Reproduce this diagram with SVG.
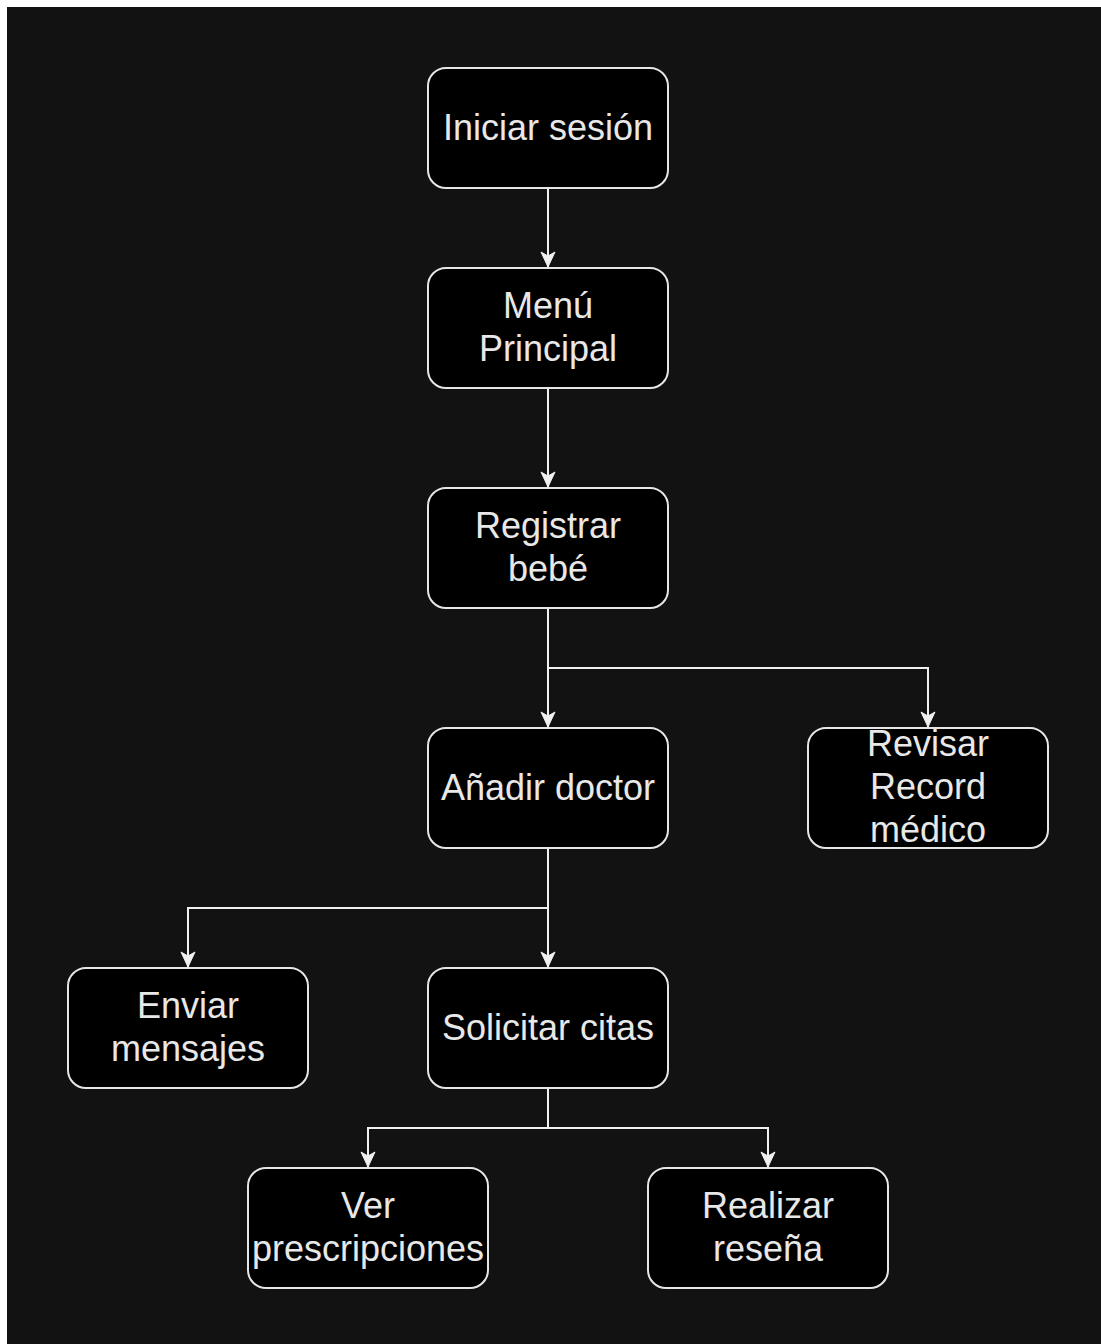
<svg xmlns="http://www.w3.org/2000/svg" width="1101" height="1344" viewBox="0 0 1101 1344">
<defs>
<style>
.box{fill:#000000;stroke:#e6e6e6;stroke-width:2}
.lbl{font-family:"Liberation Sans",Arial,Helvetica,sans-serif;font-size:36px;fill:#e8e8e8;text-anchor:middle}
.edge{fill:none;stroke:#f0f0f0;stroke-width:2}
</style>
<marker id="arr" markerUnits="userSpaceOnUse" markerWidth="17" markerHeight="16" refX="16" refY="8" orient="auto" overflow="visible">
<path d="M1,1 L16,8 L1,15 L5,8 Z" fill="#f0f0f0" stroke="#f0f0f0" stroke-width="1"/>
</marker>
</defs>
<rect x="0" y="0" width="1101" height="1344" fill="#ffffff"/>
<rect x="7" y="7" width="1094" height="1337" fill="#121212"/>
<g id="connectors">
<path class="edge" d="M548,188 V267" marker-end="url(#arr)"/>
<path class="edge" d="M548,388 V487" marker-end="url(#arr)"/>
<path class="edge" d="M548,608 V727" marker-end="url(#arr)"/>
<path class="edge" d="M548,668 H928 V727" marker-end="url(#arr)"/>
<path class="edge" d="M548,848 V967" marker-end="url(#arr)"/>
<path class="edge" d="M548,908 H188 V967" marker-end="url(#arr)"/>
<path class="edge" d="M548,1088 V1128 H368 V1167" marker-end="url(#arr)"/>
<path class="edge" d="M548,1128 H768 V1167" marker-end="url(#arr)"/>
</g>
<g id="iniciar">
<rect class="box" x="428" y="68" width="240" height="120" rx="18"/>
<text class="lbl" x="548" y="140">Iniciar sesión</text>
</g>
<g id="menu">
<rect class="box" x="428" y="268" width="240" height="120" rx="18"/>
<text class="lbl" x="548" y="318">Menú</text>
<text class="lbl" x="548" y="361">Principal</text>
</g>
<g id="registrar">
<rect class="box" x="428" y="488" width="240" height="120" rx="18"/>
<text class="lbl" x="548" y="538">Registrar</text>
<text class="lbl" x="548" y="581">bebé</text>
</g>
<g id="anadir">
<rect class="box" x="428" y="728" width="240" height="120" rx="18"/>
<text class="lbl" x="548" y="800">Añadir doctor</text>
</g>
<g id="revisar">
<rect class="box" x="808" y="728" width="240" height="120" rx="18"/>
<text class="lbl" x="928" y="756">Revisar</text>
<text class="lbl" x="928" y="799">Record</text>
<text class="lbl" x="928" y="842">médico</text>
</g>
<g id="enviar">
<rect class="box" x="68" y="968" width="240" height="120" rx="18"/>
<text class="lbl" x="188" y="1018">Enviar</text>
<text class="lbl" x="188" y="1061">mensajes</text>
</g>
<g id="solicitar">
<rect class="box" x="428" y="968" width="240" height="120" rx="18"/>
<text class="lbl" x="548" y="1040">Solicitar citas</text>
</g>
<g id="ver">
<rect class="box" x="248" y="1168" width="240" height="120" rx="18"/>
<text class="lbl" x="368" y="1218">Ver</text>
<text class="lbl" x="368" y="1261">prescripciones</text>
</g>
<g id="realizar">
<rect class="box" x="648" y="1168" width="240" height="120" rx="18"/>
<text class="lbl" x="768" y="1218">Realizar</text>
<text class="lbl" x="768" y="1261">reseña</text>
</g>
</svg>
